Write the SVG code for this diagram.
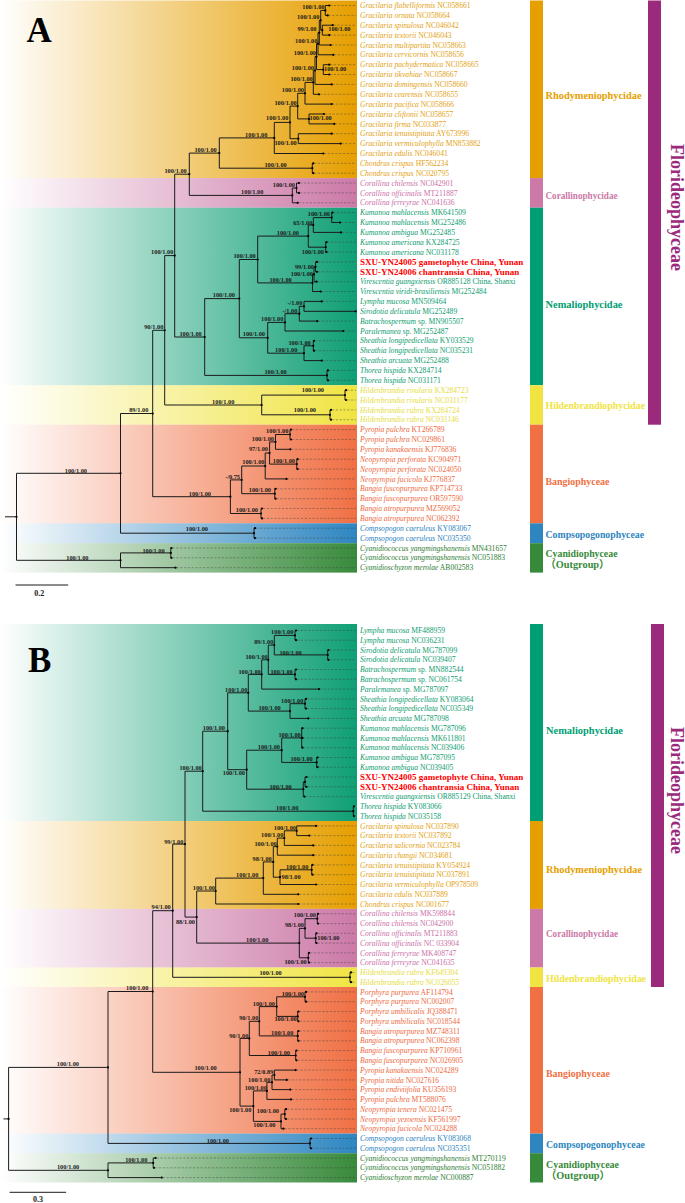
<svg xmlns="http://www.w3.org/2000/svg" width="685" height="1203" viewBox="0 0 685 1203">
<defs>
<linearGradient id="gR" gradientUnits="userSpaceOnUse" x1="0" y1="0" x2="357" y2="0"><stop offset="0" stop-color="#E69F00" stop-opacity="0"/><stop offset="1" stop-color="#E69F00"/></linearGradient>
<linearGradient id="gC" gradientUnits="userSpaceOnUse" x1="0" y1="0" x2="357" y2="0"><stop offset="0" stop-color="#CC79A7" stop-opacity="0"/><stop offset="1" stop-color="#CC79A7"/></linearGradient>
<linearGradient id="gN" gradientUnits="userSpaceOnUse" x1="0" y1="0" x2="357" y2="0"><stop offset="0" stop-color="#0F9F75" stop-opacity="0"/><stop offset="1" stop-color="#0F9F75"/></linearGradient>
<linearGradient id="gH" gradientUnits="userSpaceOnUse" x1="0" y1="0" x2="357" y2="0"><stop offset="0" stop-color="#F0E442" stop-opacity="0"/><stop offset="1" stop-color="#F0E442"/></linearGradient>
<linearGradient id="gB" gradientUnits="userSpaceOnUse" x1="0" y1="0" x2="357" y2="0"><stop offset="0" stop-color="#F07044" stop-opacity="0"/><stop offset="1" stop-color="#F07044"/></linearGradient>
<linearGradient id="gP" gradientUnits="userSpaceOnUse" x1="0" y1="0" x2="357" y2="0"><stop offset="0" stop-color="#2E86C1" stop-opacity="0"/><stop offset="1" stop-color="#2E86C1"/></linearGradient>
<linearGradient id="gY" gradientUnits="userSpaceOnUse" x1="0" y1="0" x2="357" y2="0"><stop offset="0" stop-color="#388A3B" stop-opacity="0"/><stop offset="1" stop-color="#388A3B"/></linearGradient>
</defs>
<style>
.tr{fill:none;stroke:#1b1b1b;stroke-width:1}
.ld{fill:none;stroke:#3a3a3a;stroke-width:.6;stroke-dasharray:2.2 1.6;opacity:.7}
.dt{fill:none;stroke:#000;stroke-width:2.2;stroke-linecap:round}
.n{font-family:"Liberation Serif",serif;font-size:6.3px;font-weight:bold;fill:#1b1b1b;text-anchor:end}
.ns{text-anchor:start}
.sp{font-family:"Liberation Serif",serif;font-size:7.6px}
.i{font-style:italic}
.red{font-family:"Liberation Serif",serif;font-size:9px;font-weight:bold;fill:#FF0000}
.gl{font-family:"Liberation Serif","Noto Sans CJK SC",serif;font-size:10.3px;font-weight:bold}
.fl{font-family:"Liberation Serif",serif;font-size:18px;font-weight:bold;fill:#9C2A7C;text-anchor:middle}
.pl{font-family:"Liberation Serif",serif;font-size:35px;font-weight:bold;fill:#000}
.sc{font-family:"Liberation Serif",serif;font-size:8px;font-weight:bold;fill:#1b1b1b;text-anchor:middle}
.cR{fill:#E39F12}.cC{fill:#CC6FA8}.cN{fill:#0E9C70}.cH{fill:#E6DC3E}.cB{fill:#EE6A3E}.cP{fill:#2C82BE}.cY{fill:#2D7D33}
.bR{fill:#E69F00}.bC{fill:#CC79A7}.bN{fill:#009E73}.bH{fill:#F0E442}.bB{fill:#F07044}.bP{fill:#2E86C1}.bY{fill:#368A3A}.bF{fill:#9C2A7C}
</style>

<g id="panel-A-bands">
<rect x="0" y="0.5" width="357" height="177.6" fill="url(#gR)"/>
<rect x="0" y="178.1" width="357" height="29.6" fill="url(#gC)"/>
<rect x="0" y="207.7" width="357" height="177.5" fill="url(#gN)"/>
<rect x="0" y="385.2" width="357" height="39.5" fill="url(#gH)"/>
<rect x="0" y="424.7" width="357" height="98.6" fill="url(#gB)"/>
<rect x="0" y="523.3" width="357" height="19.9" fill="url(#gP)"/>
<rect x="0" y="543.2" width="357" height="29.4" fill="url(#gY)"/>
</g>
<g id="panel-B-bands">
<rect x="0" y="624" width="357" height="197" fill="url(#gN)"/>
<rect x="0" y="821" width="357" height="87.9" fill="url(#gR)"/>
<rect x="0" y="908.9" width="357" height="58.6" fill="url(#gC)"/>
<rect x="0" y="967.5" width="357" height="19.5" fill="url(#gH)"/>
<rect x="0" y="987" width="357" height="146.6" fill="url(#gB)"/>
<rect x="0" y="1133.6" width="357" height="19.6" fill="url(#gP)"/>
<rect x="0" y="1153.2" width="357" height="29.3" fill="url(#gY)"/>
</g>

<text id="label-A" class="pl" x="26.5" y="41.7">A</text>
<text id="label-B" class="pl" x="28" y="671.7">B</text>

<g id="connectors-A">
<path class="ld" d="M330 5.5H356M328.5 15.4H356M333.5 25.2H356M330 35.1H356M331.5 45H356M334 54.8H356M330 64.7H356M330 74.5H356M332.5 84.4H356M320 94.3H356M332.5 104.1H356M325 114H356M335 123.9H356M332.5 133.7H356M341.5 143.6H356M324 153.5H356M314 163.3H356M314 173.2H356M300 183H356M300 192.9H356M298.5 202.8H356M333 212.6H356M341 222.5H356M342 232.4H356M327 242.2H356M327 252.1H356M318 261.9H356M318 271.8H356M317 281.7H356M321.5 291.5H356M322.5 301.4H356M318 321.1H356M344 331H356M315 340.8H356M315 350.7H356M322.5 360.6H356M329 370.4H356M329 380.3H356M347 390.2H356M347 400H356M332 409.9H356M332 419.7H356M292 429.6H356M292 439.5H356M291 449.3H356M298.5 459.2H356M298.5 469.1H356M287.5 478.9H356M276.5 488.8H356M276.5 498.7H356M263 508.5H356M263 518.4H356M256 528.2H356M256 538.1H356M172.5 548H356M172.5 557.8H356M176.5 567.7H356"/>
<path class="tr" d="M5 516.8H16.5M16.5 473.3V560.3M16.5 473.3H120.5M16.5 560.3H120.5
M120.5 413.5V533.2M120.5 413.5H152.7M120.5 533.2H254M254 528.2V538.1M254 528.2H255M254 538.1H255
M120.5 552.9V567.7M120.5 552.9H170.8M120.5 567.7H175.6M170.8 548V557.8M170.8 548H171.5M170.8 557.8H171.5
M152.7 330.3V496.7M152.7 330.3H164.7M152.7 496.7H230.4
M164.7 255.6V405M164.7 255.6H174.7M164.7 405H261.7
M261.7 395.1V414.8M261.7 395.1H345M261.7 414.8H330M345 390.2V400M345 390.2H346M345 400H346M330 409.9V419.7M330 409.9H331M330 419.7H331
M174.7 174.2V337M174.7 174.2H189.3M174.7 337H204.7
M189.3 153.1V195.4M189.3 153.1H219.3M189.3 195.4H292.3
M292.3 188V202.8M292.3 188H296.5M292.3 202.8H297.7M296.5 183V192.9M296.5 183H299M296.5 192.9H299
M219.3 137.9V168.2M219.3 137.9H274.3M219.3 168.2H312.3M312.3 163.3V173.2M312.3 163.3H313.3M312.3 173.2H313.3
M274.3 122.4V153.5M274.3 122.4H290M274.3 153.5H323.3
M290 106.1V138.7M290 106.1H297.7M290 138.7H298.3M298.3 133.7V143.6M298.3 133.7H331.7M298.3 143.6H340.7
M297.7 93.3V118.9M297.7 93.3H305M297.7 118.9H309M309 114V123.9M309 114H324M309 123.9H334.3
M305 82.4V104.1M305 82.4H313.3M305 104.1H331.7
M313.3 70.5V94.3M313.3 70.5H315M313.3 94.3H319
M315 56.7V84.4M315 56.7H316.5M315 84.4H331.7
M316.5 43.7V69.6M316.5 43.7H318M316.5 69.6H323.3M323.3 64.7V74.5M323.3 64.7H329.3M323.3 74.5H329.3
M318 32.6V54.8M318 32.6H319.3M318 54.8H333.3
M319.3 20.3V45M319.3 20.3H320.7M319.3 45H330.7
M320.7 10.4V30.2M320.7 10.4H325.3M320.7 30.2H322.3
M325.3 5.5V15.4M325.3 5.5H329.3M325.3 15.4H327.7M322.3 25.2V35.1M322.3 25.2H332.7M322.3 35.1H329.3
M204.7 298.6V375.4M204.7 298.6H239.3M204.7 375.4H327M327 370.4V380.3M327 370.4H328M327 380.3H328
M239.3 259.5V337.8M239.3 259.5H257.7M239.3 337.8H267.7
M257.7 236.1V282.9M257.7 236.1H308.3M257.7 282.9H312.5
M308.3 225V247.2M308.3 225H313.3M308.3 247.2H325.7
M313.3 217.6V232.4M313.3 217.6H331.7M313.3 232.4H341
M331.7 212.6V222.5M331.7 212.6H332.5M331.7 222.5H340
M325.7 242.2V252.1M325.7 242.2H326.5M325.7 252.1H326.5
M312.5 274.3V291.5M312.5 274.3H314M312.5 291.5H320.7
M314 266.9V281.7M314 266.9H315.5M314 281.7H316.5
M315.5 261.9V271.8M315.5 261.9H317M315.5 271.8H317
M267.7 322.4V353.2M267.7 322.4H285M267.7 353.2H304
M285 313.7V331M285 313.7H299.3M285 331H343.3
M299.3 306.3V321.1M299.3 306.3H304M299.3 321.1H317.3
M304 301.4V311.3M304 301.4H321.7M304 311.3H355.7
M304 345.8V360.6M304 345.8H313.3M304 360.6H321.7M313.3 340.8V350.7M313.3 340.8H314M313.3 350.7H314
M230.4 479.9V513.5M230.4 479.9H241.7M230.4 513.5H261M261 508.5V518.4M261 508.5H262M261 518.4H262
M241.7 466V493.7M241.7 466H265.2M241.7 493.7H274.8M274.8 488.8V498.7M274.8 488.8H275.6M274.8 498.7H275.6
M265.2 453V478.9M265.2 453H269.6M265.2 478.9H286.5
M269.6 441.9V464.1M269.6 441.9H275.5M269.6 464.1H296.8M296.8 459.2V469.1M296.8 459.2H297.6M296.8 469.1H297.6
M275.5 434.5V449.3M275.5 434.5H290M275.5 449.3H290.3M290 429.6V439.5M290 429.6H291M290 439.5H291"/>
<path class="dt" d="M329.3 5.5h0M327.7 15.4h0M332.7 25.2h0M329.3 35.1h0M330.7 45h0M333.3 54.8h0M329.3 64.7h0M329.3 74.5h0M331.7 84.4h0M319 94.3h0M331.7 104.1h0M324 114h0M334.3 123.9h0M331.7 133.7h0M340.7 143.6h0M323.3 153.5h0M313.3 163.3h0M313.3 173.2h0M299 183h0M299 192.9h0M297.7 202.8h0M332.5 212.6h0M340 222.5h0M341 232.4h0M326.5 242.2h0M326.5 252.1h0M317 261.9h0M317 271.8h0M316.5 281.7h0M320.7 291.5h0M321.7 301.4h0M355.7 311.3h0M317.3 321.1h0M343.3 331h0M314 340.8h0M314 350.7h0M321.7 360.6h0M328 370.4h0M328 380.3h0M346 390.2h0M346 400h0M331 409.9h0M331 419.7h0M291 429.6h0M291 439.5h0M290.3 449.3h0M297.6 459.2h0M297.6 469.1h0M286.5 478.9h0M275.6 488.8h0M275.6 498.7h0M262 508.5h0M262 518.4h0M255 528.2h0M255 538.1h0M171.5 548h0M171.5 557.8h0M175.6 567.7h0
M16.5 516.8h0M120.5 473.3h0M120.5 560.3h0M152.7 413.5h0M164.7 330.3h0M174.7 255.6h0M189.3 174.2h0M219.3 153.1h0M274.3 137.9h0M290 122.4h0M297.7 106.1h0M305 93.3h0M313.3 82.4h0M315 70.5h0M316.5 56.7h0M318 43.7h0M319.3 32.6h0M320.7 20.3h0M325.3 10.4h0M322.3 30.2h0M323.3 69.6h0M309 118.9h0M298.3 138.7h0M312.3 168.2h0M292.3 195.4h0M296.5 188h0M204.7 337h0M239.3 298.6h0M257.7 259.5h0M308.3 236.1h0M313.3 225h0M331.7 217.6h0M325.7 247.2h0M312.5 282.9h0M314 274.3h0M315.5 266.9h0M267.7 337.8h0M285 322.4h0M299.3 313.7h0M304 306.3h0M304 353.2h0M313.3 345.8h0M327 375.4h0M261.7 405h0M345 395.1h0M330 414.8h0M230.4 496.7h0M241.7 479.9h0M265.2 466h0M269.6 453h0M275.5 441.9h0M290 434.5h0M296.8 464.1h0M274.8 493.7h0M261 513.5h0M254 533.2h0M170.8 552.9h0"/>
<g id="support-A">
<text class="n" x="324.5" y="8.7">100/1.00</text>
<text class="n" x="319.3" y="19.3">100/1.00</text>
<text class="n" x="316.5" y="31.3">99/1.00</text>
<text class="n ns" x="328.3" y="31.3">100/1.00</text>
<text class="n" x="317.3" y="43">100/1.00</text>
<text class="n" x="316" y="55.3">100/1.00</text>
<text class="n" x="314" y="70">100/1.00</text>
<text class="n ns" x="324" y="71.3">100/1.00</text>
<text class="n" x="312.7" y="81.3">100/1.00</text>
<text class="n" x="304" y="92">100/1.00</text>
<text class="n" x="296.7" y="104.7">100/1.00</text>
<text class="n" x="288.3" y="120.3">100/1.00</text>
<text class="n ns" x="309.5" y="120.3">100/1.00</text>
<text class="n" x="267.3" y="136.5">100/1.00</text>
<text class="n" x="296.7" y="144.7">100/1.00</text>
<text class="n" x="216.7" y="151.5">100/1.00</text>
<text class="n" x="286.7" y="166.5">100/1.00</text>
<text class="n" x="186.7" y="172.7">100/1.00</text>
<text class="n" x="295" y="187">100/1.00</text>
<text class="n" x="263.3" y="194">100/1.00</text>
<text class="n" x="330" y="216.3">100/1.00</text>
<text class="n" x="312.3" y="224.5">65/1.00</text>
<text class="n" x="299" y="234.8">100/1.00</text>
<text class="n" x="324" y="253.7">100/1.00</text>
<text class="n" x="173.3" y="254">100/1.00</text>
<text class="n" x="255.7" y="258.2">100/1.00</text>
<text class="n" x="314" y="269">99/1.00</text>
<text class="n" x="313" y="275.7">100/1.00</text>
<text class="n" x="291.7" y="282">100/1.00</text>
<text class="n" x="235" y="297">100/1.00</text>
<text class="n" x="302.3" y="305.3">-/1.00</text>
<text class="n" x="297.3" y="312.7">-/1.00</text>
<text class="n" x="283.3" y="321.3">100/1.00</text>
<text class="n" x="163.3" y="328.7">90/1.00</text>
<text class="n" x="201.7" y="335.7">100/1.00</text>
<text class="n" x="265" y="336.3">100/1.00</text>
<text class="n" x="310.7" y="344.7">100/1.00</text>
<text class="n" x="297.3" y="352">100/1.00</text>
<text class="n" x="286.7" y="374">100/1.00</text>
<text class="n" x="324" y="392.3">100/1.00</text>
<text class="n" x="234.3" y="404">100/1.00</text>
<text class="n" x="148.3" y="412">89/1.00</text>
<text class="n" x="316" y="412">100/1.00</text>
<text class="n" x="288.3" y="432.5">100/1.00</text>
<text class="n" x="274" y="441.3">100/1.00</text>
<text class="n" x="268" y="451.3">97/1.00</text>
<text class="n" x="295" y="462.7">100/1.00</text>
<text class="n" x="264.5" y="463.7">100/1.00</text>
<text class="n" x="87" y="472.7">100/1.00</text>
<text class="n" x="240" y="478.7" font-size="5">-/0.75</text>
<text class="n" x="271" y="492">100/1.00</text>
<text class="n" x="211" y="495.7">100/1.00</text>
<text class="n" x="258" y="512">100/1.00</text>
<text class="n" x="208" y="530.7">100/1.00</text>
<text class="n" x="164.6" y="552.7">100/1.00</text>
<text class="n" x="88.5" y="559.7">100/1.00</text>
</g>
<path class="tr" d="M15.5 585H68.2"/>
<text class="sc" x="39.3" y="595.5">0.2</text>
</g>

<g id="leaves-A">
<g id="A-rhodymeniophycidae" class="sp cR">
<text id="A1" x="360" y="8.1"><tspan class="i">Gracilaria flabelliformis</tspan> NC058661</text>
<text id="A2" x="360" y="18"><tspan class="i">Gracilaria ornata</tspan> NC058664</text>
<text id="A3" x="360" y="27.8"><tspan class="i">Gracilaria spinulosa</tspan> NC046042</text>
<text id="A4" x="360" y="37.7"><tspan class="i">Gracilaria textorii</tspan> NC046043</text>
<text id="A5" x="360" y="47.6"><tspan class="i">Gracilaria multipartita</tspan> NC058663</text>
<text id="A6" x="360" y="57.4"><tspan class="i">Gracilaria cervicornis</tspan> NC058656</text>
<text id="A7" x="360" y="67.3"><tspan class="i">Gracilaria pachydermatica</tspan> NC058665</text>
<text id="A8" x="360" y="77.1"><tspan class="i">Gracilaria tikvahiae</tspan> NC058667</text>
<text id="A9" x="360" y="87"><tspan class="i">Gracilaria domingensis</tspan> NC058660</text>
<text id="A10" x="360" y="96.9"><tspan class="i">Gracilaria cearensis</tspan> NC058655</text>
<text id="A11" x="360" y="106.7"><tspan class="i">Gracilaria pacifica</tspan> NC058666</text>
<text id="A12" x="360" y="116.6"><tspan class="i">Gracilaria cliftonii</tspan> NC058657</text>
<text id="A13" x="360" y="126.5"><tspan class="i">Gracilaria firma</tspan> NC033877</text>
<text id="A14" x="360" y="136.3"><tspan class="i">Gracilaria tenuistipitata</tspan> AY673996</text>
<text id="A15" x="360" y="146.2"><tspan class="i">Gracilaria vermiculophylla</tspan> MN853882</text>
<text id="A16" x="360" y="156.1"><tspan class="i">Gracilaria edulis</tspan> NC046041</text>
<text id="A17" x="360" y="165.9"><tspan class="i">Chondrus crispus</tspan> HF562234</text>
<text id="A18" x="360" y="175.8"><tspan class="i">Chondrus crispus</tspan> NC020795</text>
</g>
<g id="A-corallinophycidae" class="sp cC">
<text id="A19" x="360" y="185.6"><tspan class="i">Corallina chilensis</tspan> NC042901</text>
<text id="A20" x="360" y="195.5"><tspan class="i">Corallina officinalis</tspan> MT211887</text>
<text id="A21" x="360" y="205.4"><tspan class="i">Corallina ferreyrae</tspan> NC041636</text>
</g>
<g id="A-nemaliophycidae" class="sp cN">
<text id="A22" x="360" y="215.2"><tspan class="i">Kumanoa mahlacensis</tspan> MK641509</text>
<text id="A23" x="360" y="225.1"><tspan class="i">Kumanoa mahlacensis</tspan> MG252486</text>
<text id="A24" x="360" y="235"><tspan class="i">Kumanoa ambigua</tspan> MG252485</text>
<text id="A25" x="360" y="244.8"><tspan class="i">Kumanoa americana</tspan> KX284725</text>
<text id="A26" x="360" y="254.7"><tspan class="i">Kumanoa americana</tspan> NC031178</text>
<text id="A27" class="red" x="360" y="265.1">SXU-YN24005 gametophyte China, Yunan</text>
<text id="A28" class="red" x="360" y="275">SXU-YN24006 chantransia China, Yunan</text>
<text id="A29" x="360" y="284.3"><tspan class="i">Virescentia guangxiensis</tspan> OR885128 China, Shanxi</text>
<text id="A30" x="360" y="294.1"><tspan class="i">Virescentia viridi-brasiliensis</tspan> MG252484</text>
<text id="A31" x="360" y="304"><tspan class="i">Lympha mucosa</tspan> MN509464</text>
<text id="A32" x="360" y="313.9"><tspan class="i">Sirodotia delicatula</tspan> MG252489</text>
<text id="A33" x="360" y="323.7"><tspan class="i">Batrachospermum</tspan> sp. MN905507</text>
<text id="A34" x="360" y="333.6"><tspan class="i">Paralemanea</tspan> sp. MG252487</text>
<text id="A35" x="360" y="343.4"><tspan class="i">Sheathia longipedicellata</tspan> KY033529</text>
<text id="A36" x="360" y="353.3"><tspan class="i">Sheathia longipedicellata</tspan> NC035231</text>
<text id="A37" x="360" y="363.2"><tspan class="i">Sheathia  arcuata</tspan> MG252488</text>
<text id="A38" x="360" y="373"><tspan class="i">Thorea hispida</tspan> KX284714</text>
<text id="A39" x="360" y="382.9"><tspan class="i">Thorea hispida</tspan> NC031171</text>
</g>
<g id="A-hildenbrandiophycidae" class="sp cH">
<text id="A40" x="360" y="392.8"><tspan class="i">Hildenbrandia rivularis</tspan> KX284723</text>
<text id="A41" x="360" y="402.6"><tspan class="i">Hildenbrandia rivularis</tspan> NC031177</text>
<text id="A42" x="360" y="412.5"><tspan class="i">Hildenbrandia rubra</tspan> KX284724</text>
<text id="A43" x="360" y="422.4"><tspan class="i">Hildenbrandia rubra</tspan> NC031146</text>
</g>
<g id="A-bangiophyceae" class="sp cB">
<text id="A44" x="360" y="432.2"><tspan class="i">Pyropia pulchra</tspan> KT266789</text>
<text id="A45" x="360" y="442.1"><tspan class="i">Pyropia pulchra</tspan> NC029861</text>
<text id="A46" x="360" y="451.9"><tspan class="i">Pyropia kanakaensis</tspan> KJ776836</text>
<text id="A47" x="360" y="461.8"><tspan class="i">Neopyropia  perforata</tspan> KC904971</text>
<text id="A48" x="360" y="471.7"><tspan class="i">Neopyropia  perforata</tspan> NC024050</text>
<text id="A49" x="360" y="481.5"><tspan class="i">Neopyropia fucicola</tspan> KJ776837</text>
<text id="A50" x="360" y="491.4"><tspan class="i">Bangia fuscopurpurea</tspan> KP714733</text>
<text id="A51" x="360" y="501.3"><tspan class="i">Bangia fuscopurpurea</tspan> OR597590</text>
<text id="A52" x="360" y="511.1"><tspan class="i">Bangia atropurpurea</tspan> MZ569052</text>
<text id="A53" x="360" y="521"><tspan class="i">Bangia atropurpurea</tspan> NC062392</text>
</g>
<g id="A-compsopogonophyceae" class="sp cP">
<text id="A54" x="360" y="530.8"><tspan class="i">Compsopogon caeruleus</tspan> KY083067</text>
<text id="A55" x="360" y="540.7"><tspan class="i">Compsopogon caeruleus</tspan> NC035350</text>
</g>
<g id="A-cyanidiophyceae" class="sp cY">
<text id="A56" x="360" y="550.6"><tspan class="i">Cyanidiococcus yangmingshanensis</tspan> MN431657</text>
<text id="A57" x="360" y="560.4"><tspan class="i">Cyanidiococcus yangmingshanensis</tspan> NC051883</text>
<text id="A58" x="360" y="570.3"><tspan class="i">Cyanidioschyzon merolae</tspan> AB002583</text>
</g>
</g>

<g id="groups-A">
<rect class="bR" x="530" y="0.5" width="13" height="177.6"/>
<rect class="bC" x="530" y="178.1" width="13" height="29.6"/>
<rect class="bN" x="530" y="207.7" width="13" height="177.5"/>
<rect class="bH" x="530" y="385.2" width="13" height="39.5"/>
<rect class="bB" x="530" y="424.7" width="13" height="98.6"/>
<rect class="bP" x="530" y="523.3" width="13" height="19.9"/>
<rect class="bY" x="530" y="543.2" width="13" height="29.4"/>
<rect class="bF" x="648" y="0.5" width="13" height="424.2"/>
<text class="gl bR" x="545.5" y="99.2" textLength="96" lengthAdjust="spacingAndGlyphs">Rhodymeniophycidae</text>
<text class="gl bC" x="545.5" y="199" textLength="72" lengthAdjust="spacingAndGlyphs">Corallinophycidae</text>
<text class="gl bN" x="545.5" y="307.7" textLength="77" lengthAdjust="spacingAndGlyphs">Nemaliophycidae</text>
<text class="gl bH" x="545.5" y="409.2" textLength="99.5" lengthAdjust="spacingAndGlyphs">Hildenbrandiophycidae</text>
<text class="gl bB" x="545.5" y="484.5" textLength="64" lengthAdjust="spacingAndGlyphs">Bangiophyceae</text>
<text class="gl bP" x="545.5" y="538" textLength="98.5" lengthAdjust="spacingAndGlyphs">Compsopogonophyceae</text>
<text class="gl bY" x="545.5" y="556.5" textLength="72" lengthAdjust="spacingAndGlyphs">Cyanidiophyceae</text>
<text class="gl bY" x="545.5" y="568">（Outgroup）</text>
<text class="fl" transform="translate(670.5 207.6) rotate(90)">Florideophyceae</text>
</g>

<g id="connectors-B">
<path class="ld" d="M297 630.5H356M297 640.2H356M329.5 650H356M329.5 659.8H356M297 669.5H356M297 679.3H356M320 689.1H356M307 698.9H356M307 708.6H356M309.3 718.4H356M303.5 728.2H356M303.5 737.9H356M303.5 747.7H356M318.5 757.5H356M318.5 767.2H356M307.5 777H356M307.5 786.8H356M305.5 796.6H356M317 825.9H356M310.3 835.6H356M314.3 845.4H356M314.3 855.2H356M313.5 864.9H356M313.5 874.7H356M317 884.5H356M299.3 894.3H356M299.3 904H356M319 913.8H356M319 923.6H356M317.5 933.3H356M317.5 943.1H356M310 952.9H356M310 962.6H356M352 972.4H356M352 982.2H356M307 991.9H356M307 1001.7H356M299.5 1011.5H356M299.5 1021.3H356M299.5 1031H356M299.5 1040.8H356M297.5 1050.6H356M297.5 1060.3H356M296.7 1070.1H356M287.8 1079.9H356M291.3 1089.6H356M292 1099.4H356M287 1109.2H356M287 1119H356M284.5 1128.7H356M312 1138.5H356M312 1148.3H356M156.6 1158H356M155 1167.8H356M162.8 1177.6H356"/>
<path class="tr" d="M3.4 1118.9H8.6M8.6 1067.4V1170.3M8.6 1067.4H108M8.6 1170.3H108
M108 991.5V1143.4M108 991.5H152.7M108 1143.4H310M310 1138.5V1148.3M310 1138.5H311M310 1148.3H311
M108 1162.9V1177.6M108 1162.9H153.2M108 1177.6H161.8M153.2 1158V1167.8M153.2 1158H155.6M153.2 1167.8H154
M152.7 910.7V1072.3M152.7 910.7H172.7M152.7 1072.3H240
M172.7 844.1V977.3M172.7 844.1H185M172.7 977.3H350M350 972.4V982.2M350 972.4H351M350 982.2H351
M185 771.2V917.1M185 771.2H202.7M185 917.1H196.7
M196.7 891V943.1M196.7 891H215.7M196.7 943.1H299.3
M299.3 928.4V957.8M299.3 928.4H305M299.3 957.8H308.3
M305 918.7V938.2M305 918.7H317.3M305 938.2H315.7
M317.3 913.8V923.6M317.3 913.8H318M317.3 923.6H318M315.7 933.3V943.1M315.7 933.3H316.5M315.7 943.1H316.5M308.3 952.9V962.6M308.3 952.9H309M308.3 962.6H309
M215.7 878.1V904M215.7 878.1H263.3M215.7 904H298.3
M263.3 861.9V894.3M263.3 861.9H273.3M263.3 894.3H298.3
M273.3 846.6V877.2M273.3 846.6H277.3M273.3 877.2H280
M280 869.8V884.5M280 869.8H311.7M280 884.5H316M311.7 864.9V874.7M311.7 864.9H312.5M311.7 874.7H312.5
M277.3 838.1V855.2M277.3 838.1H284.3M277.3 855.2H313.3
M284.3 830.8V845.4M284.3 830.8H296.7M284.3 845.4H313.3
M296.7 825.9V835.6M296.7 825.9H316M296.7 835.6H309.3
M202.7 731.2V811.2M202.7 731.2H227.7M202.7 811.2H353.3M353.3 806.3V816.1M353.3 806.3H354M353.3 816.1H354
M227.7 692.8V769.7M227.7 692.8H248.3M227.7 769.7H246.7
M246.7 750.2V789.2M246.7 750.2H281.7M246.7 789.2H303.3
M281.7 737.9V762.4M281.7 737.9H301.7M281.7 762.4H316.7
M301.7 728.2V747.7M301.7 728.2H302.5M301.7 737.9H302.5M301.7 747.7H302.5M316.7 757.5V767.2M316.7 757.5H317.5M316.7 767.2H317.5
M303.3 781.9V796.6M303.3 781.9H305M303.3 796.6H304.5M305 777V786.8M305 777H306.5M305 786.8H306.5
M248.3 674.4V711.1M248.3 674.4H261.7M248.3 711.1H290
M290 703.7V718.4M290 703.7H305M290 718.4H308.3M305 698.9V708.6M305 698.9H306M305 708.6H306
M261.7 659.8V689.1M261.7 659.8H268.3M261.7 689.1H319
M268.3 645.1V674.4M268.3 645.1H274.3M268.3 674.4H295M295 669.5V679.3M295 669.5H296M295 679.3H296
M274.3 635.4V654.9M274.3 635.4H295M274.3 654.9H327.7M295 630.5V640.2M295 630.5H296M295 640.2H296M327.7 650V659.8M327.7 650H328.5M327.7 659.8H328.5
M240 1038.4V1106.1M240 1038.4H249.3M240 1106.1H253.4
M249.3 1021.3V1055.5M249.3 1021.3H259.3M249.3 1055.5H295.7M295.7 1050.6V1060.3M295.7 1050.6H296.5M295.7 1060.3H296.5
M259.3 1006.6V1035.9M259.3 1006.6H276.7M259.3 1035.9H297.7M297.7 1031V1040.8M297.7 1031H298.5M297.7 1040.8H298.5
M276.7 996.8V1016.4M276.7 996.8H305M276.7 1016.4H297.7M305 991.9V1001.7M305 991.9H306M305 1001.7H306M297.7 1011.5V1021.3M297.7 1011.5H298.5M297.7 1021.3H298.5
M253.4 1090.9V1121.4M253.4 1090.9H266.9M253.4 1121.4H281
M266.9 1082.3V1099.4M266.9 1082.3H272M266.9 1099.4H291
M272 1075V1089.6M272 1075H274.4M272 1089.6H290.3
M274.4 1070.1V1079.9M274.4 1070.1H295.7M274.4 1079.9H286.8
M281 1114.1V1128.7M281 1114.1H284.8M281 1128.7H283.5M284.8 1109.2V1119M284.8 1109.2H286M284.8 1119H286"/>
<path class="dt" d="M296 630.5h0M296 640.2h0M328.5 650h0M328.5 659.8h0M296 669.5h0M296 679.3h0M319 689.1h0M306 698.9h0M306 708.6h0M308.3 718.4h0M302.5 728.2h0M302.5 737.9h0M302.5 747.7h0M317.5 757.5h0M317.5 767.2h0M306.5 777h0M306.5 786.8h0M304.5 796.6h0M354 806.3h0M354 816.1h0M316 825.9h0M309.3 835.6h0M313.3 845.4h0M313.3 855.2h0M312.5 864.9h0M312.5 874.7h0M316 884.5h0M298.3 894.3h0M298.3 904h0M318 913.8h0M318 923.6h0M316.5 933.3h0M316.5 943.1h0M309 952.9h0M309 962.6h0M351 972.4h0M351 982.2h0M306 991.9h0M306 1001.7h0M298.5 1011.5h0M298.5 1021.3h0M298.5 1031h0M298.5 1040.8h0M296.5 1050.6h0M296.5 1060.3h0M295.7 1070.1h0M286.8 1079.9h0M290.3 1089.6h0M291 1099.4h0M286 1109.2h0M286 1119h0M283.5 1128.7h0M311 1138.5h0M311 1148.3h0M155.6 1158h0M154 1167.8h0M161.8 1177.6h0
M8.6 1118.9h0M108 1067.4h0M108 1170.3h0M153.2 1162.9h0M310 1143.4h0M152.7 991.5h0M172.7 910.7h0M350 977.3h0M185 844.1h0M196.7 917.1h0M299.3 943.1h0M305 928.4h0M317.3 918.7h0M315.7 938.2h0M308.3 957.8h0M215.7 891h0M263.3 878.1h0M273.3 861.9h0M280 877.2h0M311.7 869.8h0M277.3 846.6h0M284.3 838.1h0M296.7 830.8h0M202.7 771.2h0M353.3 811.2h0M227.7 731.2h0M246.7 769.7h0M281.7 750.2h0M301.7 737.9h0M316.7 762.4h0M303.3 789.2h0M305 781.9h0M248.3 692.8h0M290 711.1h0M305 703.7h0M261.7 674.4h0M268.3 659.8h0M295 674.4h0M274.3 645.1h0M295 635.4h0M327.7 654.9h0M240 1072.3h0M249.3 1038.4h0M295.7 1055.5h0M259.3 1021.3h0M297.7 1035.9h0M276.7 1006.6h0M305 996.8h0M297.7 1016.4h0M253.4 1106.1h0M266.9 1090.9h0M272 1082.3h0M274.4 1075h0M281 1121.4h0M284.8 1114.1h0"/>
<g id="support-B">
<text class="n" x="293.3" y="634">100/1.00</text>
<text class="n" x="273.3" y="644.3">89/1.00</text>
<text class="n" x="301.7" y="654.7">100/1.00</text>
<text class="n" x="267.7" y="659.3">100/1.00</text>
<text class="n" x="292.7" y="674">100/1.00</text>
<text class="n" x="260.7" y="674">100/1.00</text>
<text class="n" x="247.3" y="692">100/1.00</text>
<text class="n" x="303.3" y="703">100/1.00</text>
<text class="n" x="280.7" y="710.3">100/1.00</text>
<text class="n" x="225" y="730">100/1.00</text>
<text class="n" x="300.7" y="737">100/1.00</text>
<text class="n" x="280" y="749.3">100/1.00</text>
<text class="n" x="312.7" y="761">100/1.00</text>
<text class="n" x="201.7" y="770.3">100/1.00</text>
<text class="n" x="245" y="775.3">100/1.00</text>
<text class="n" x="291.7" y="788.7">100/1.00</text>
<text class="n" x="298.3" y="810.3">100/1.00</text>
<text class="n" x="296" y="829.7">100/1.00</text>
<text class="n" x="283.3" y="837">100/1.00</text>
<text class="n" x="183.3" y="843.7">99/1.00</text>
<text class="n" x="276.7" y="846.3">100/1.00</text>
<text class="n" x="271.7" y="861">98/1.00</text>
<text class="n" x="308.3" y="868.7">100/1.00</text>
<text class="n" x="258.3" y="877">100/1.00</text>
<text class="n ns" x="281.5" y="879.3">98/1.00</text>
<text class="n" x="215" y="890.3">100/1.00</text>
<text class="n" x="170.7" y="909.3">94/1.00</text>
<text class="n" x="316" y="917">100/1.00</text>
<text class="n" x="195" y="923.7">88/1.00</text>
<text class="n" x="304" y="927">98/1.00</text>
<text class="n ns" x="317.3" y="940.3">100/1.00</text>
<text class="n" x="268.3" y="942">100/1.00</text>
<text class="n" x="306.7" y="963.7">100/1.00</text>
<text class="n" x="281.7" y="975.3">100/1.00</text>
<text class="n" x="148.3" y="990.3">100/1.00</text>
<text class="n" x="304" y="996">100/1.00</text>
<text class="n" x="275" y="1006">100/1.00</text>
<text class="n" x="258.3" y="1020.3">90/1.00</text>
<text class="n" x="296.7" y="1021.3">100/1.00</text>
<text class="n" x="293.3" y="1035.3">100/1.00</text>
<text class="n" x="248.3" y="1038">90/1.00</text>
<text class="n" x="290" y="1054.7">100/1.00</text>
<text class="n" x="79" y="1066.3">100/1.00</text>
<text class="n" x="216.7" y="1070.3">100/1.00</text>
<text class="n" x="273.3" y="1074.4" font-size="4.6">72/0.89</text>
<text class="n" x="270.3" y="1082">100/1.00</text>
<text class="n" x="266.9" y="1090.3">100/1.00</text>
<text class="n" x="251.4" y="1112">100/1.00</text>
<text class="n" x="279" y="1113">100/1.00</text>
<text class="n" x="275.5" y="1127">100/1.00</text>
<text class="n" x="229" y="1142.7">100/1.00</text>
<text class="n" x="147.4" y="1162">100/1.00</text>
<text class="n" x="79.2" y="1168.7">100/1.00</text>
</g>
<path class="tr" d="M9.6 1192.3H66.1"/>
<text class="sc" x="37.9" y="1202">0.3</text>
</g>

<g id="leaves-B">
<g id="B-nemaliophycidae" class="sp cN">
<text id="B1" x="360" y="633.1"><tspan class="i">Lympha mucosa</tspan> MF488959</text>
<text id="B2" x="360" y="642.8"><tspan class="i">Lympha mucosa</tspan> NC036231</text>
<text id="B3" x="360" y="652.6"><tspan class="i">Sirodotia delicatula</tspan> MG787099</text>
<text id="B4" x="360" y="662.4"><tspan class="i">Sirodotia delicatula</tspan> NC039407</text>
<text id="B5" x="360" y="672.1"><tspan class="i">Batrachospermum</tspan> sp.  MN882544</text>
<text id="B6" x="360" y="681.9"><tspan class="i">Batrachospermum</tspan> sp.  NC061754</text>
<text id="B7" x="360" y="691.7"><tspan class="i">Paralemanea</tspan> sp. MG787097</text>
<text id="B8" x="360" y="701.5"><tspan class="i">Sheathia longipedicellata</tspan> KY083064</text>
<text id="B9" x="360" y="711.2"><tspan class="i">Sheathia longipedicellata</tspan> NC035349</text>
<text id="B10" x="360" y="721"><tspan class="i">Sheathia arcuata</tspan> MG787098</text>
<text id="B11" x="360" y="730.8"><tspan class="i">Kumanoa mahlacensis</tspan> MG787096</text>
<text id="B12" x="360" y="740.5"><tspan class="i">Kumanoa mahlacensis</tspan> MK611801</text>
<text id="B13" x="360" y="750.3"><tspan class="i">Kumanoa mahlacensis</tspan> NC039406</text>
<text id="B14" x="360" y="760.1"><tspan class="i">Kumanoa ambigua</tspan> MG787095</text>
<text id="B15" x="360" y="769.8"><tspan class="i">Kumanoa ambigua</tspan> NC039405</text>
<text id="B16" class="red" x="360" y="780.2">SXU-YN24005 gametophyte China, Yunan</text>
<text id="B17" class="red" x="360" y="790">SXU-YN24006 chantransia China, Yunan</text>
<text id="B18" x="360" y="799.2"><tspan class="i">Virescentia guangxiensis</tspan> OR885129 China, Shanxi</text>
<text id="B19" x="360" y="808.9"><tspan class="i">Thorea hispida</tspan> KY083066</text>
<text id="B20" x="360" y="818.7"><tspan class="i">Thorea hispida</tspan> NC035158</text>
</g>
<g id="B-rhodymeniophycidae" class="sp cR">
<text id="B21" x="360" y="828.5"><tspan class="i">Gracilaria spinulosa</tspan> NC037890</text>
<text id="B22" x="360" y="838.2"><tspan class="i">Gracilaria textorii</tspan> NC037892</text>
<text id="B23" x="360" y="848"><tspan class="i">Gracilaria salicornia</tspan> NC023784</text>
<text id="B24" x="360" y="857.8"><tspan class="i">Gracilaria changii</tspan> NC034681</text>
<text id="B25" x="360" y="867.6"><tspan class="i">Gracilaria tenuistipitata</tspan> KY054924</text>
<text id="B26" x="360" y="877.3"><tspan class="i">Gracilaria tenuistipitata</tspan> NC037891</text>
<text id="B27" x="360" y="887.1"><tspan class="i">Gracilaria vermiculophylla</tspan> OP978509</text>
<text id="B28" x="360" y="896.9"><tspan class="i">Gracilaria edulis</tspan> NC037889</text>
<text id="B29" x="360" y="906.6"><tspan class="i">Chondrus crispus</tspan> NC001677</text>
</g>
<g id="B-corallinophycidae" class="sp cC">
<text id="B30" x="360" y="916.4"><tspan class="i">Corallina chilensis</tspan> MK598844</text>
<text id="B31" x="360" y="926.2"><tspan class="i">Corallina chilensis</tspan> NC042900</text>
<text id="B32" x="360" y="935.9"><tspan class="i">Corallina officinalis</tspan> MT211883</text>
<text id="B33" x="360" y="945.7"><tspan class="i">Corallina officinalis</tspan> NC 033904</text>
<text id="B34" x="360" y="955.5"><tspan class="i">Corallina ferreyrae</tspan> MK408747</text>
<text id="B35" x="360" y="965.2"><tspan class="i">Corallina ferreyrae</tspan> NC041635</text>
</g>
<g id="B-hildenbrandiophycidae" class="sp cH">
<text id="B36" x="360" y="975"><tspan class="i">Hildenbrandia rubra</tspan> KF649304</text>
<text id="B37" x="360" y="984.8"><tspan class="i">Hildenbrandia rubra</tspan> NC026055</text>
</g>
<g id="B-bangiophyceae" class="sp cB">
<text id="B38" x="360" y="994.5"><tspan class="i">Porphyra purpurea</tspan> AF114794</text>
<text id="B39" x="360" y="1004.3"><tspan class="i">Porphyra purpurea</tspan> NC002007</text>
<text id="B40" x="360" y="1014.1"><tspan class="i">Porphyra umbilicalis</tspan> JQ388471</text>
<text id="B41" x="360" y="1023.9"><tspan class="i">Porphyra umbilicalis</tspan> NC018544</text>
<text id="B42" x="360" y="1033.6"><tspan class="i">Bangia atropurpurea</tspan> MZ748311</text>
<text id="B43" x="360" y="1043.4"><tspan class="i">Bangia atropurpurea</tspan> NC062398</text>
<text id="B44" x="360" y="1053.2"><tspan class="i">Bangia fuscopurpurea</tspan> KP710961</text>
<text id="B45" x="360" y="1062.9"><tspan class="i">Bangia fuscopurpurea</tspan> NC026905</text>
<text id="B46" x="360" y="1072.7"><tspan class="i">Pyropia kanakaensis</tspan> NC024289</text>
<text id="B47" x="360" y="1082.5"><tspan class="i">Pyropia nitida</tspan> NC027616</text>
<text id="B48" x="360" y="1092.2"><tspan class="i">Pyropia endiviifolia</tspan> KU356193</text>
<text id="B49" x="360" y="1102"><tspan class="i">Pyropia pulchra</tspan> MT588076</text>
<text id="B50" x="360" y="1111.8"><tspan class="i">Neopyropia tenera</tspan> NC021475</text>
<text id="B51" x="360" y="1121.6"><tspan class="i">Neopyropia yezoensis</tspan> KF561997</text>
<text id="B52" x="360" y="1131.3"><tspan class="i">Neopyropia fucicola</tspan> NC024288</text>
</g>
<g id="B-compsopogonophyceae" class="sp cP">
<text id="B53" x="360" y="1141.1"><tspan class="i">Compsopogon caeruleus</tspan> KY083068</text>
<text id="B54" x="360" y="1150.9"><tspan class="i">Compsopogon caeruleus</tspan>  NC035351</text>
</g>
<g id="B-cyanidiophyceae" class="sp cY">
<text id="B55" x="360" y="1160.6"><tspan class="i">Cyanidiococcus yangmingshanensis</tspan> MT270119</text>
<text id="B56" x="360" y="1170.4"><tspan class="i">Cyanidiococcus yangmingshanensis</tspan> NC051882</text>
<text id="B57" x="360" y="1180.2"><tspan class="i">Cyanidioschyzon merolae</tspan> NC000887</text>
</g>
</g>

<g id="groups-B">
<rect class="bN" x="530" y="624" width="13" height="197"/>
<rect class="bR" x="530" y="821" width="13" height="87.9"/>
<rect class="bC" x="530" y="908.9" width="13" height="58.6"/>
<rect class="bH" x="530" y="967.5" width="13" height="19.5"/>
<rect class="bB" x="530" y="987" width="13" height="146.6"/>
<rect class="bP" x="530" y="1133.6" width="13" height="19.6"/>
<rect class="bY" x="530" y="1153.2" width="13" height="29.3"/>
<rect class="bF" x="651" y="624" width="13" height="363"/>
<text class="gl bN" x="546" y="734.3" textLength="77" lengthAdjust="spacingAndGlyphs">Nemaliophycidae</text>
<text class="gl bR" x="546" y="872.5" textLength="96" lengthAdjust="spacingAndGlyphs">Rhodymeniophycidae</text>
<text class="gl bC" x="546" y="937.3" textLength="72" lengthAdjust="spacingAndGlyphs">Corallinophycidae</text>
<text class="gl bH" x="546" y="982.3" textLength="100" lengthAdjust="spacingAndGlyphs">Hildenbrandiophycidae</text>
<text class="gl bB" x="546" y="1076.5" textLength="64" lengthAdjust="spacingAndGlyphs">Bangiophyceae</text>
<text class="gl bP" x="546" y="1147.5" textLength="99" lengthAdjust="spacingAndGlyphs">Compsopogonophyceae</text>
<text class="gl bY" x="546" y="1167.5" textLength="73" lengthAdjust="spacingAndGlyphs">Cyanidiophyceae</text>
<text class="gl bY" x="546" y="1179.3">（Outgroup）</text>
<text class="fl" transform="translate(671 790.5) rotate(90)">Florideophyceae</text>
</g>
</svg>
